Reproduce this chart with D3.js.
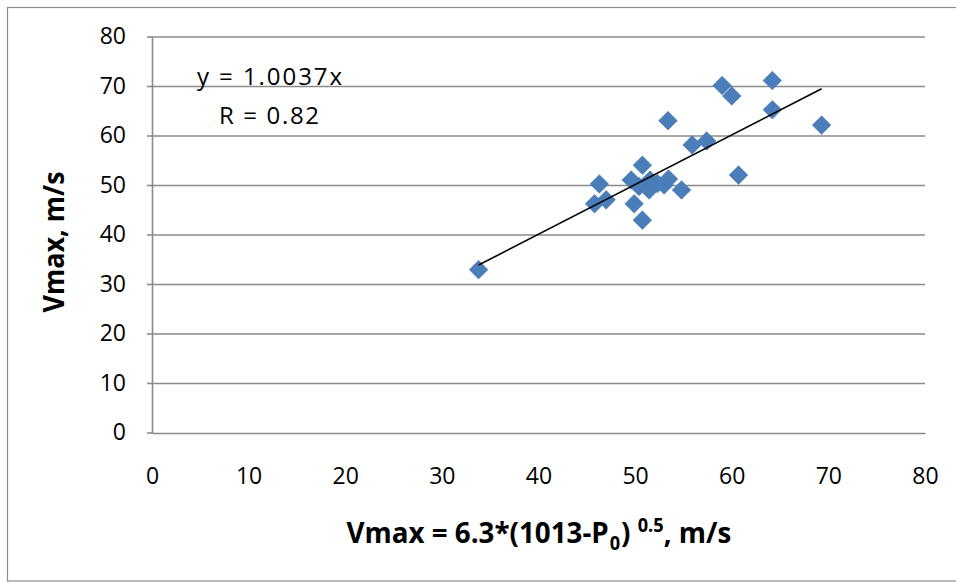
<!DOCTYPE html>
<html>
<head>
<meta charset="utf-8">
<script src="https://cdn.jsdelivr.net/npm/d3@7"></script>
<style>
  html, body { margin: 0; padding: 0; background: #fff; }
  svg { display: block; }
  text { font-family: "Open Sans", "Liberation Sans", sans-serif; fill: #000; }
</style>
</head>
<body>
<svg id="chart" width="956" height="582"></svg>
<script>
// Estimated (x) vs observed (y) maximum wind speed, m/s
const estimatedV = [33.8, 46.3, 45.8, 47.0, 49.9, 50.75, 50.75, 49.6, 50.4, 51.55, 51.45, 53.0, 53.45, 53.4, 54.8, 55.9, 57.4, 59.0, 60.0, 64.2, 64.2, 60.7, 69.3, 52.3];
const observedV  = [33.0, 50.3, 46.3, 47.1, 46.3, 43.0, 54.1, 51.1, 49.8, 51.1, 49.1, 50.1, 51.3, 63.1, 49.1, 58.2, 59.0, 70.2, 68.1, 71.2, 65.3, 52.1, 62.2, 50.4];
const xTicks = [0, 10, 20, 30, 40, 50, 60, 70, 80];
const yTicks = [0, 10, 20, 30, 40, 50, 60, 70, 80];
const slope = 1.0037;
const trendLabel = "y = 1.0037x";
const rLabel = "R = 0.82";

const svg = d3.select("#chart");
const plot = { left: 152, right: 925, top: 37, bottom: 433 };

const x = d3.scaleLinear().domain([0, 80]).range([plot.left, plot.right]);
const y = d3.scaleLinear().domain([0, 80]).range([plot.bottom, plot.top]);

// chart frame
svg.append("rect")
  .attr("x", 7.5).attr("y", 7.5).attr("width", 960).attr("height", 573.5)
  .attr("fill", "none").attr("stroke", "#8c8c8c").attr("stroke-width", 1.2);

// horizontal gridlines
svg.append("g")
  .selectAll("line")
  .data(yTicks.filter(d => d > 0))
  .join("line")
  .attr("x1", plot.left).attr("x2", plot.right)
  .attr("y1", d => y(d)).attr("y2", d => y(d))
  .attr("stroke", "#8a8a8a").attr("stroke-width", 1.6);

// axes
const yAxis = d3.axisLeft(y).tickValues(yTicks).tickSize(0).tickPadding(26);
const xAxis = d3.axisBottom(x).tickValues(xTicks).tickSize(0).tickPadding(35);

const gy = svg.append("g").attr("transform", `translate(${plot.left},0)`).call(yAxis);
const gx = svg.append("g").attr("transform", `translate(0,${plot.bottom})`).call(xAxis);
[gx, gy].forEach(g => {
  g.select(".domain").attr("stroke", "#8a8a8a").attr("stroke-width", 1.6);
  g.selectAll("text").attr("font-size", 23).attr("font-family", "'Open Sans', sans-serif").attr("fill", "#000");
});
gy.selectAll("text").attr("dy", "0.3em");

// small tick marks on the value axis
svg.append("g")
  .selectAll("line")
  .data(yTicks)
  .join("line")
  .attr("x1", plot.left - 5).attr("x2", plot.left)
  .attr("y1", d => y(d)).attr("y2", d => y(d))
  .attr("stroke", "#8a8a8a").attr("stroke-width", 1.6);

// data markers (diamonds)
const pts = estimatedV.map((v, i) => ({ x: v, y: observedV[i] }));
const h = 9.3;
svg.append("g")
  .selectAll("path")
  .data(pts)
  .join("path")
  .attr("d", d => {
    const cx = x(d.x), cy = y(d.y);
    return `M${cx},${cy - h}L${cx + h},${cy}L${cx},${cy + h}L${cx - h},${cy}Z`;
  })
  .attr("fill", "#4a7ebb")
  .attr("stroke", "#4676b0")
  .attr("stroke-width", 0.6);

// linear trendline through the origin
const [xmin, xmax] = d3.extent(estimatedV);
svg.append("line")
  .attr("x1", x(xmin)).attr("y1", y(slope * xmin))
  .attr("x2", x(xmax)).attr("y2", y(slope * xmax))
  .attr("stroke", "#000").attr("stroke-width", 1.6);

// trend annotation
svg.append("text").attr("x", 197).attr("y", 85).attr("font-size", 24)
  .attr("textLength", 145).attr("lengthAdjust", "spacing").text(trendLabel);
svg.append("text").attr("x", 219).attr("y", 124).attr("font-size", 24)
  .attr("textLength", 100).attr("lengthAdjust", "spacing").text(rLabel);

// y-axis title
svg.append("text")
  .attr("transform", "translate(64,242) rotate(-90)")
  .attr("text-anchor", "middle")
  .attr("font-size", 29).attr("font-weight", "bold")
  .attr("textLength", 141).attr("lengthAdjust", "spacingAndGlyphs")
  .text("Vmax, m/s");

// x-axis title: condensed horizontally to a fixed width around the plot centre
const xtG = svg.append("g");
const xt = xtG.append("text")
  .attr("x", 0).attr("y", 0)
  .attr("font-size", 29).attr("font-weight", "bold");
xt.append("tspan").text("Vmax = 6.3*(1013-P");
xt.append("tspan").attr("font-size", 19).attr("dx", 1).attr("dy", 7).text("0");
xt.append("tspan").attr("dx", 1).attr("dy", -7).text(") ");
xt.append("tspan").attr("font-size", 19).attr("dy", -11).text("0.5");
xt.append("tspan").attr("dy", 11).text(", m/s");
const natural = xt.node().getComputedTextLength();
const targetW = 383;
const sx = targetW / natural;
xtG.attr("transform", `translate(${538 - targetW / 2},543) scale(${sx},1)`);
</script>
</body>
</html>
